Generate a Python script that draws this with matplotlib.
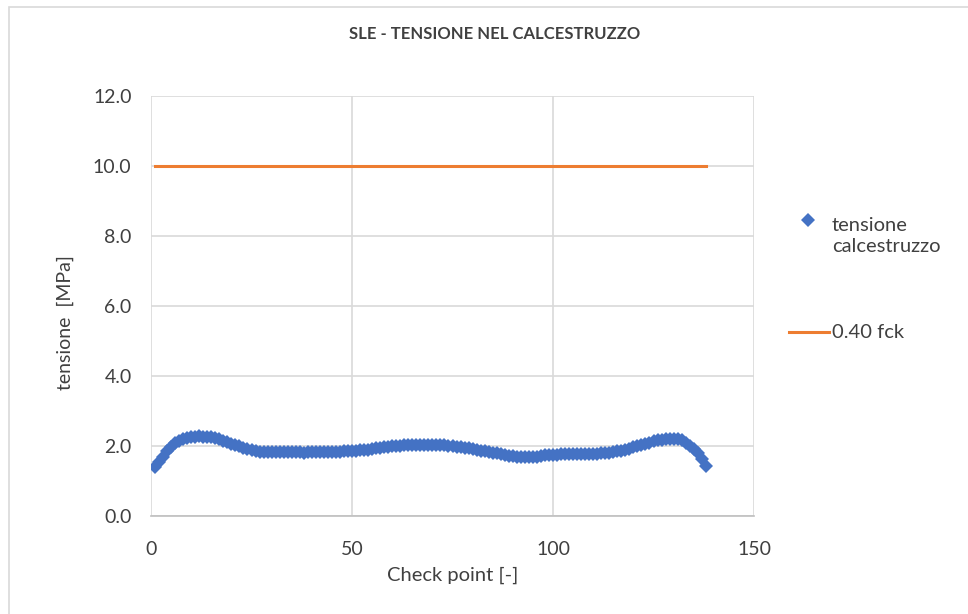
import matplotlib
matplotlib.use("Agg")
import matplotlib.pyplot as plt
from matplotlib.lines import Line2D
from matplotlib.patches import Rectangle

plt.rcParams['font.family'] = ['Lato', 'DejaVu Sans']

# ---- data ----
check_points = list(range(1, 139))
tensione = [
    1.41, 1.55, 1.70, 1.86, 1.97, 2.08, 2.15, 2.20, 2.24, 2.26,
    2.27, 2.28, 2.27, 2.27, 2.25, 2.23, 2.19, 2.15, 2.11, 2.07,
    2.03, 1.99, 1.95, 1.91, 1.88, 1.85, 1.83, 1.82, 1.83, 1.82,
    1.82, 1.82, 1.83, 1.82, 1.82, 1.82, 1.82, 1.81, 1.82, 1.82,
    1.82, 1.82, 1.83, 1.83, 1.83, 1.84, 1.84, 1.85, 1.85, 1.86,
    1.87, 1.88, 1.89, 1.90, 1.91, 1.93, 1.95, 1.97, 1.98, 1.99,
    2.00, 2.01, 2.02, 2.03, 2.03, 2.03, 2.03, 2.03, 2.04, 2.03,
    2.03, 2.03, 2.02, 2.01, 2.00, 1.98, 1.96, 1.95, 1.93, 1.91,
    1.89, 1.87, 1.85, 1.83, 1.81, 1.79, 1.76, 1.74, 1.72, 1.71,
    1.70, 1.69, 1.68, 1.68, 1.68, 1.69, 1.71, 1.73, 1.74, 1.75,
    1.75, 1.76, 1.76, 1.76, 1.76, 1.76, 1.77, 1.77, 1.77, 1.78,
    1.78, 1.79, 1.80, 1.81, 1.83, 1.85, 1.87, 1.89, 1.92, 1.96,
    1.99, 2.02, 2.06, 2.10, 2.13, 2.16, 2.18, 2.20, 2.21, 2.21,
    2.20, 2.16, 2.09, 2.01, 1.91, 1.79, 1.63, 1.42,
]
limite = [10.0] * len(check_points)

title = "SLE - TENSIONE NEL CALCESTRUZZO"
xlabel = "Check point [-]"
ylabel = "tensione  [MPa]"
series_names = ["tensione\ncalcestruzzo", "0.40 fck"]
xticks = [0, 50, 100, 150]
yticks = [0, 2, 4, 6, 8, 10, 12]

blue = "#4472C4"
orange = "#ED7D31"
txt = "#404040"
grid = "#D9D9D9"

W, H = 968, 614
fig = plt.figure(figsize=(W / 100, H / 100), dpi=100)
fig.patch.set_facecolor("white")

# outer chart border
fig.patches.append(Rectangle((9 / W, -0.05), (W - 9) / W + 0.05, (H - 7) / H + 0.05,
                             transform=fig.transFigure, fill=False,
                             edgecolor="#D9D9D9", linewidth=1.2))

ax = fig.add_axes([151 / W, (H - 516) / H, (754 - 151) / W, (516 - 96) / H])
ax.set_xlim(0, 150)
ax.set_ylim(0, 12)
ax.set_xticks(xticks)
ax.set_yticks(yticks)
ax.set_yticklabels([f"{v:.1f}" for v in yticks])
ax.grid(True, color=grid, linewidth=1.2)
ax.set_axisbelow(True)
for s in ["top", "right", "left"]:
    ax.spines[s].set_visible(False)
ax.spines["bottom"].set_color("#BFBFBF")
ax.spines["bottom"].set_linewidth(1.2)
ax.tick_params(axis="both", length=0, labelsize=14, labelcolor=txt)
ax.tick_params(axis="x", pad=18)
ax.tick_params(axis="y", pad=14)

ax.plot(check_points, tensione, linestyle="none", marker="D",
        markersize=7.5, color=blue, markeredgewidth=0, zorder=3)
ax.plot(check_points, limite, color=orange, linewidth=2.2, zorder=2)

ax.set_xlabel(xlabel, fontsize=14.5, color=txt, labelpad=6)
ax.set_ylabel(ylabel, fontsize=14, color=txt)
ax.yaxis.set_label_coords(-0.128, 0.46)

fig.text(495 / W, 1 - 34 / H, title, ha="center", va="center",
         fontsize=12, fontweight="bold", color=txt)

# legend
fig.add_artist(Line2D([808 / W], [1 - 220 / H], marker="D", markersize=7.5,
                      color=blue, markeredgewidth=0, linestyle="none",
                      transform=fig.transFigure))
fig.text(832 / W, 1 - 236 / H, series_names[0], ha="left", va="center",
         fontsize=14.5, color=txt, linespacing=1.35)
fig.add_artist(Line2D([789 / W, 829 / W], [1 - 332 / H, 1 - 332 / H],
                      color=orange, linewidth=2.2,
                      transform=fig.transFigure))
fig.text(832 / W, 1 - 332 / H, series_names[1], ha="left", va="center",
         fontsize=14.5, color=txt)

fig.savefig("out.png", dpi=100, facecolor="white")
